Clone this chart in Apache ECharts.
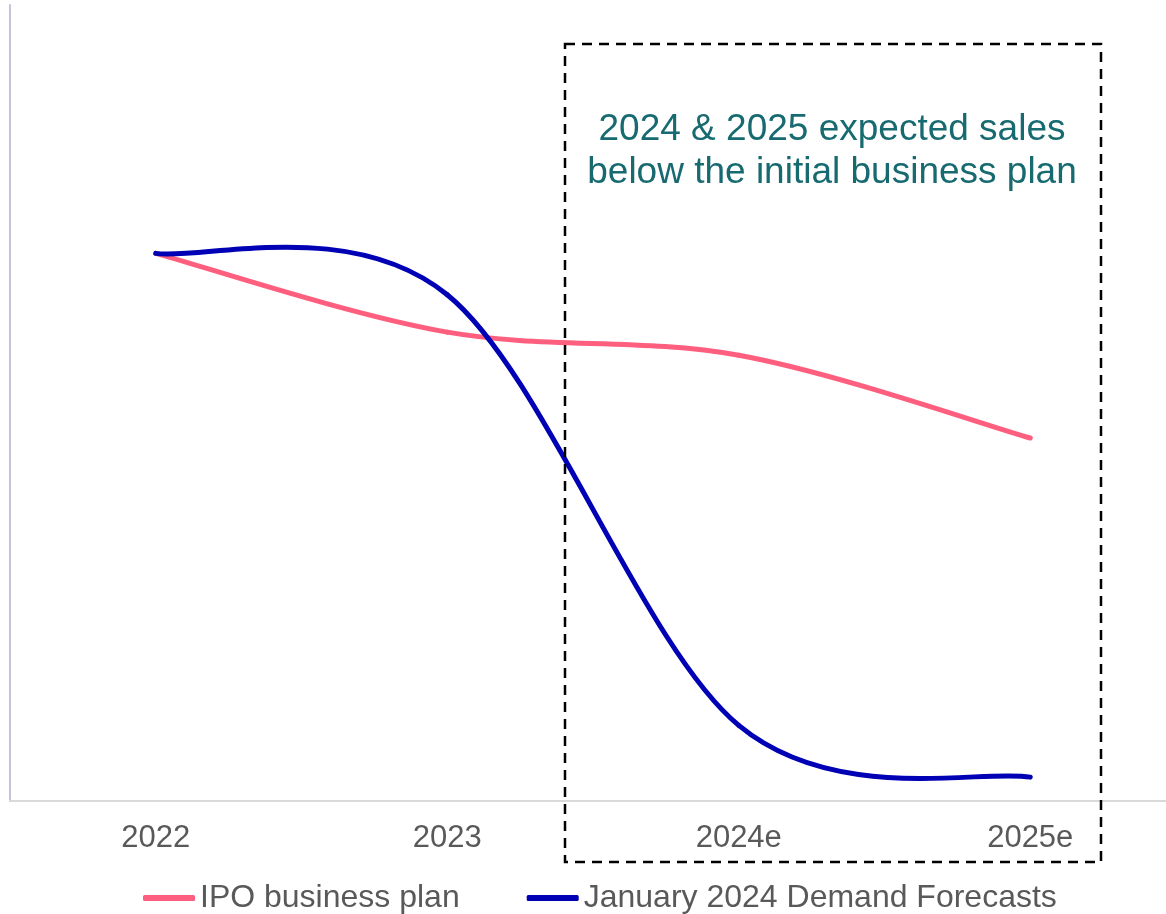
<!DOCTYPE html>
<html>
<head>
<meta charset="utf-8">
<script src="https://cdn.jsdelivr.net/npm/echarts@6/dist/echarts.min.js"></script>
<style>
  html, body { margin: 0; padding: 0; background: #fff; overflow: hidden; }
</style>
</head>
<body>
<!-- container a bit wider than the window: the plot runs past the right edge like the original -->
<div id="main" style="width: 1190px;height:914px;"></div>

<script type="text/javascript">
    // categories on the x axis
    var years = ['2022', '2023', '2024e', '2025e'];
    // IPO business plan (arbitrary units 0-100)
    var ipoPlan = [68.8, 58.9, 56.0, 45.6];
    // January 2024 demand forecasts
    var janForecast = [68.8, 63.6, 9.5, 3.0];

    var myChart = echarts.init(document.getElementById('main'));

    // smoothed line like Excel: one bezier segment per pair of points,
    // control points taken from the neighbours (catmull-rom, /6)
    function smoothLine(values) {
        return function (params, api) {
            var i = params.dataIndex;
            var n = values.length;
            if (i >= n - 1) return null;
            var p0 = api.coord([Math.max(i - 1, 0), values[Math.max(i - 1, 0)]]);
            var p1 = api.coord([i, values[i]]);
            var p2 = api.coord([i + 1, values[i + 1]]);
            var p3 = api.coord([Math.min(i + 2, n - 1), values[Math.min(i + 2, n - 1)]]);
            return {
                type: 'bezierCurve',
                shape: {
                    x1: p1[0], y1: p1[1],
                    x2: p2[0], y2: p2[1],
                    cpx1: p1[0] + (p2[0] - p0[0]) / 6,
                    cpy1: p1[1] + (p2[1] - p0[1]) / 6,
                    cpx2: p2[0] - (p3[0] - p1[0]) / 6,
                    cpy2: p2[1] - (p3[1] - p1[1]) / 6
                },
                style: {
                    fill: null,
                    stroke: api.visual('color'),
                    lineWidth: 5,
                    lineCap: 'round'
                }
            };
        };
    }

    function toData(values) {
        return values.map(function (v, k) { return [k, v]; });
    }

    var option = {
        animation: false,
        backgroundColor: '#ffffff',
        textStyle: { fontFamily: 'Liberation Sans, Arial, sans-serif' },
        grid: { left: 10, top: 5, width: 1166, height: 796 },
        legend: {
            left: 138,
            top: 877,
            itemGap: 67,
            itemWidth: 52,
            itemHeight: 6,
            icon: 'roundRect',
            textStyle: { fontSize: 32, color: '#595959' },
            data: ['IPO business plan', 'January 2024 Demand Forecasts']
        },
        xAxis: {
            type: 'category',
            data: years,
            axisLine: { lineStyle: { color: '#d9d9d9', width: 2 } },
            axisTick: { length: 10, lineStyle: { color: '#d9d9d9', width: 2 } },
            axisLabel: { fontSize: 31, color: '#595959', margin: 22 }
        },
        yAxis: {
            type: 'value',
            min: 0,
            max: 100,
            axisLine: { show: true, lineStyle: { color: '#c6c3d8', width: 2 } },
            axisTick: { show: false },
            axisLabel: { show: false },
            splitLine: { show: false }
        },
        series: [
            {
                name: 'IPO business plan',
                type: 'custom',
                coordinateSystem: 'cartesian2d',
                data: toData(ipoPlan),
                encode: { x: 0, y: 1 },
                renderItem: smoothLine(ipoPlan),
                itemStyle: { color: '#ff5f7e' },
                z: 2
            },
            {
                name: 'January 2024 Demand Forecasts',
                type: 'custom',
                coordinateSystem: 'cartesian2d',
                data: toData(janForecast),
                encode: { x: 0, y: 1 },
                renderItem: smoothLine(janForecast),
                itemStyle: { color: '#0000b4' },
                z: 3
            }
        ],
        // dashed callout box + its text
        graphic: [
            {
                type: 'rect',
                z: 10,
                shape: { x: 565, y: 44, width: 536, height: 818 },
                style: { fill: 'none', stroke: '#000', lineWidth: 2.5, lineDash: [10, 7] }
            },
            {
                type: 'text',
                z: 10,
                x: 832,
                y: 108,
                style: {
                    text: '2024 & 2025 expected sales\nbelow the initial business plan',
                    align: 'center',
                    verticalAlign: 'top',
                    fontSize: 37,
                    lineHeight: 43,
                    fill: '#176a6f',
                    fontFamily: 'Liberation Sans, Arial, sans-serif'
                }
            }
        ]
    };

    myChart.setOption(option);
</script>
</body>
</html>
